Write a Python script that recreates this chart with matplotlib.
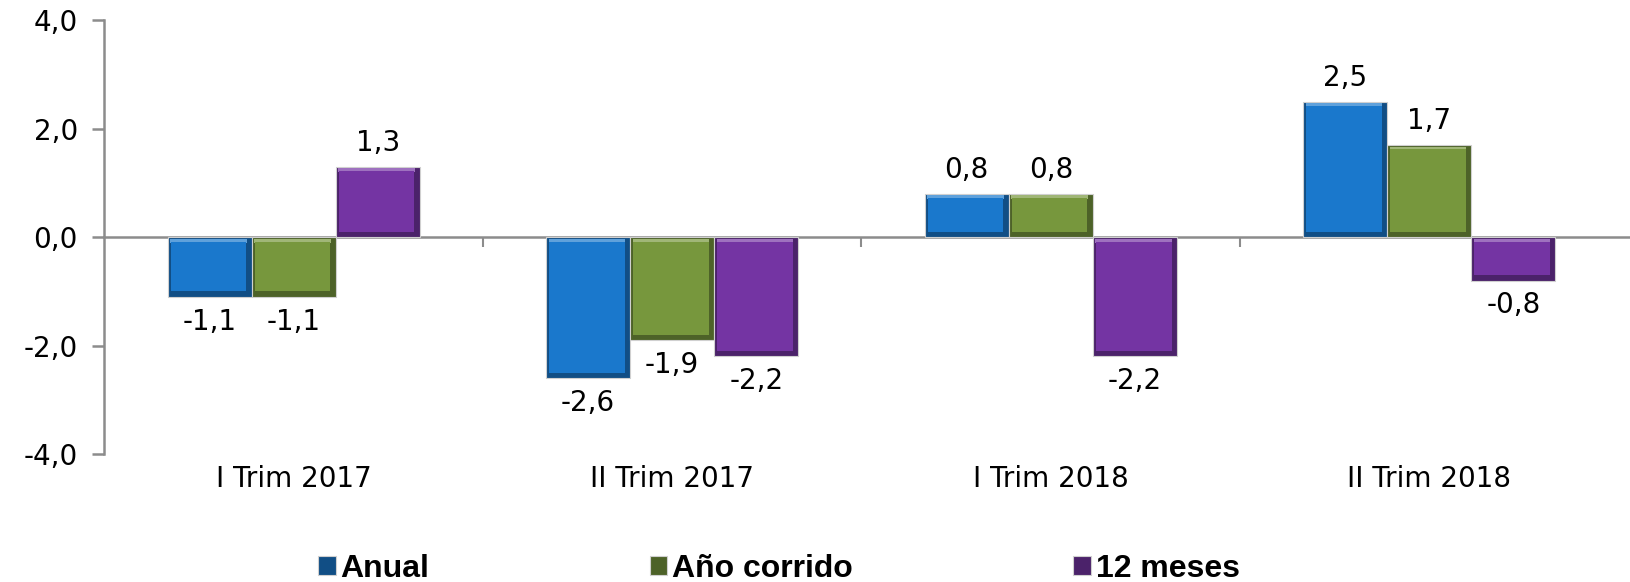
import numpy as np
import matplotlib
matplotlib.use("Agg")
import matplotlib.pyplot as plt
from matplotlib.ticker import FixedLocator
from matplotlib.colors import to_rgb

# Data
categorias = ["I Trim 2017", "II Trim 2017", "I Trim 2018", "II Trim 2018"]
anual = [-1.1, -2.6, 0.8, 2.5]
ano_corrido = [-1.1, -1.9, 0.8, 1.7]
doce_meses = [1.3, -2.2, -2.2, -0.8]
series_nombres = ["Anual", "Año corrido", "12 meses"]
y_ticks = [-4.0, -2.0, 0.0, 2.0, 4.0]

colores = ["#1a78cc", "#77973d", "#7434a3"]


def coma(v):
    """Format a number with a decimal comma."""
    return f"{v:.1f}".replace(".", ",")


def mezclar(c, otro, f):
    """Mix a colour with another one."""
    return tuple(np.array(to_rgb(c)) * (1 - f) + np.array(to_rgb(otro)) * f)


plt.rcParams["font.family"] = ["DejaVu Sans"]

fig = plt.figure(figsize=(16.31, 5.82), dpi=100)
ax = fig.add_axes([0.064, 0.22, 0.94, 0.745])

x = np.arange(len(categorias))
ancho = 0.222
valores = [anual, ano_corrido, doce_meses]

for i, (vals, nombre) in enumerate(zip(valores, series_nombres)):
    pos = x + (i - 1) * ancho
    # outer darker bar (bevel edge)
    ax.bar(pos, vals, width=ancho, color=mezclar(colores[i], "black", 0.35),
           edgecolor="#d0d0d0", linewidth=0.8, label=nombre, zorder=3)
    # lighter top bevel strip
    tope = [max(v, 0) for v in vals]
    ax.bar(pos - 0.003, [0.07] * len(vals), width=ancho - 0.02,
           bottom=[t - 0.1 for t in tope], color=mezclar(colores[i], "white", 0.3),
           edgecolor="none", zorder=4)
    # inner panel in the main colour
    alto = [abs(v) - 0.18 for v in vals]
    base = [min(v, 0) + 0.1 for v in vals]
    ax.bar(pos - 0.003, alto, width=ancho - 0.022, bottom=base,
           color=colores[i], edgecolor="none", zorder=5)
    for xb, v in zip(pos, vals):
        if v >= 0:
            ax.text(xb, v + 0.18, coma(v), ha="center", va="bottom", fontsize=20, zorder=6)
        else:
            ax.text(xb, v - 0.2, coma(v), ha="center", va="top", fontsize=20, zorder=6)

ax.set_xlim(-0.5, 3.55)
ax.set_ylim(-4.0, 4.0)
ax.set_yticks(y_ticks)
ax.set_yticklabels([coma(v) for v in y_ticks], fontsize=20)

# x axis sits at zero, ticks on category boundaries
ax.spines["bottom"].set_position(("data", 0))
ax.spines["top"].set_visible(False)
ax.spines["right"].set_visible(False)
for s in ["left", "bottom"]:
    ax.spines[s].set_color("#8c8c8c")
    ax.spines[s].set_linewidth(1.8)
ax.xaxis.set_major_locator(FixedLocator([0.5, 1.5, 2.5]))
ax.set_xticklabels([])
ax.tick_params(axis="x", direction="out", length=7, color="#8c8c8c", width=1.5)
ax.tick_params(axis="y", direction="out", length=9, color="#8c8c8c", width=1.8, pad=10)

for xc, cat in zip(x, categorias):
    ax.text(xc, -4.2, cat, ha="center", va="top", fontsize=20)

leg = ax.legend(loc="center", bbox_to_anchor=(0.44, -0.265), ncol=3, frameon=False,
                handlelength=0.55, handleheight=0.55, handletextpad=0.15, columnspacing=6.9,
                prop={"family": ["Liberation Sans Narrow", "Liberation Sans"],
                      "weight": "bold", "size": 23})

fig.savefig("out.png", dpi=100)
